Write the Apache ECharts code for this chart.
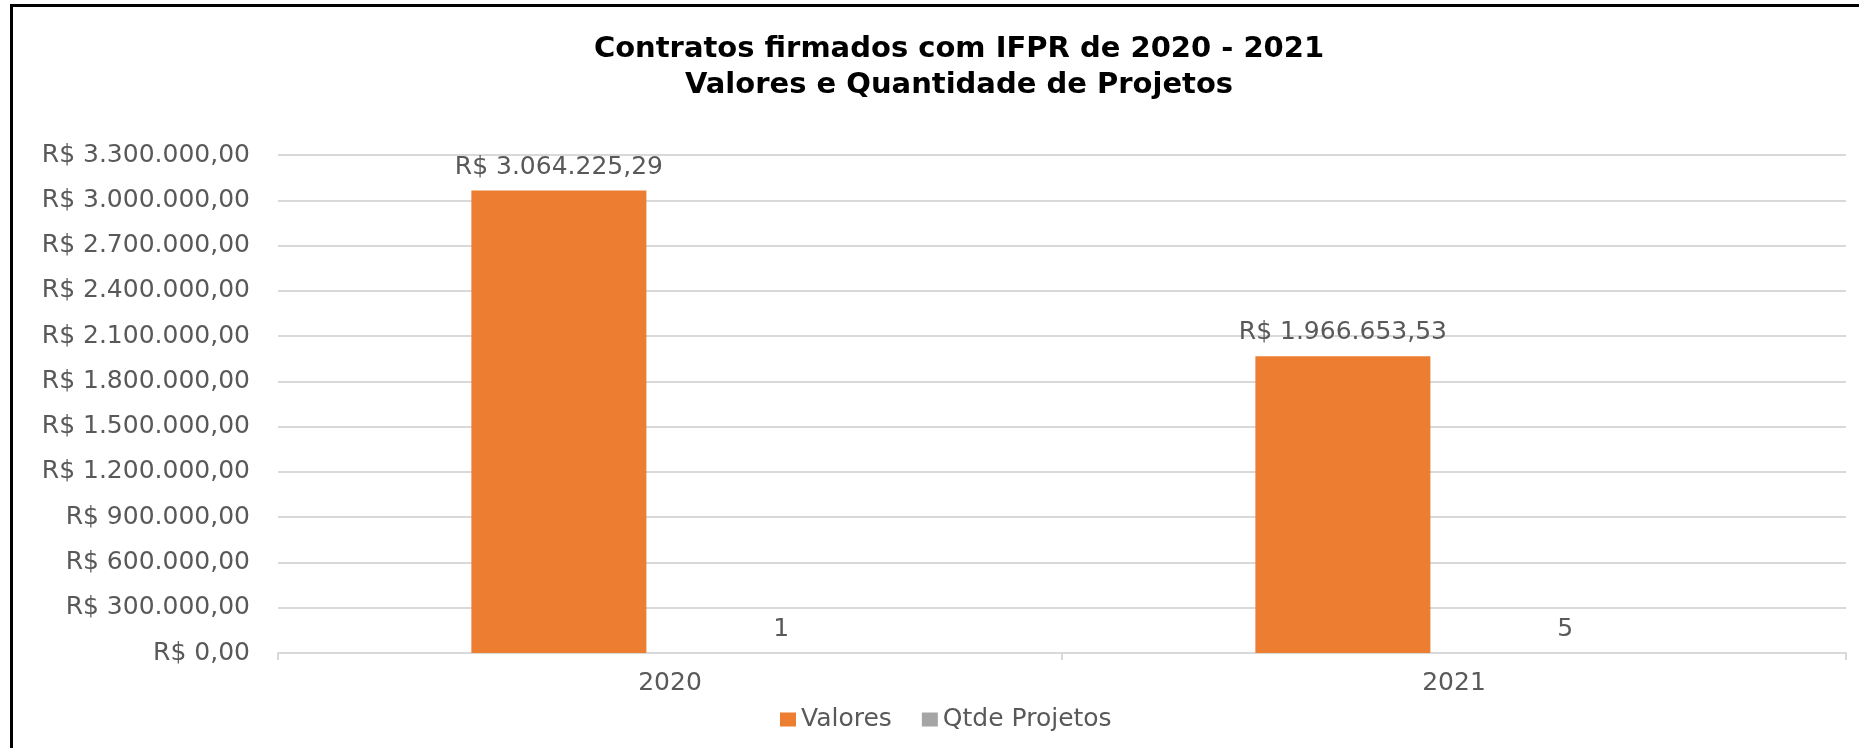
<!DOCTYPE html>
<html>
<head>
<meta charset="utf-8">
<title>Contratos firmados com IFPR</title>
<script src="https://cdn.jsdelivr.net/npm/echarts@6/dist/echarts.min.js"></script>
<style>
  html, body { margin: 0; padding: 0; background: #fff; }
  #chart { width: 1859px; height: 748px; }
</style>
</head>
<body>
<div id="chart"></div>
<script>
// dados
var anos = ["2020", "2021"];
var valores = [3064225.29, 1966653.53];
var qtdeProjetos = [1, 5];
var eixoMax = 3300000;
var eixoPasso = 300000;

// formata no padrão R$ 1.234.567,89
function reais(v) {
  var partes = Number(v).toFixed(2).split(".");
  var inteiro = partes[0].replace(/\B(?=(\d{3})+(?!\d))/g, ".");
  return "R$ " + inteiro + "," + partes[1];
}

var fonte = "DejaVu Sans";
var cinzaTexto = "#595959";

var myChart = echarts.init(document.getElementById("chart"));
myChart.setOption({
  animation: false,
  title: {
    text: "Contratos firmados com IFPR de 2020 - 2021\nValores e Quantidade de Projetos",
    left: 959,
    top: 31,
    padding: 0,
    textAlign: "center",
    textStyle: {
      fontFamily: fonte,
      fontWeight: "bold",
      fontSize: 29,
      lineHeight: 36,
      color: "#000",
    },
  },
  legend: {
    data: ["Valores", "Qtde Projetos"],
    left: 775,
    top: 702,
    itemWidth: 16,
    itemHeight: 14,
    itemGap: 30,
    icon: "rect",
    textStyle: {
      fontFamily: fonte,
      fontSize: 25,
      color: cinzaTexto,
    },
  },
  grid: {
    left: 278,
    right: 13,
    top: 155,
    bottom: 95,
  },
  xAxis: {
    type: "category",
    data: anos,
    axisLine: { lineStyle: { color: "#d9d9d9", width: 2 } },
    axisTick: { show: true, length: 7, lineStyle: { color: "#d9d9d9", width: 2 } },
    axisLabel: {
      margin: 18,
      fontFamily: fonte,
      fontSize: 25,
      color: cinzaTexto,
    },
  },
  yAxis: {
    type: "value",
    min: 0,
    max: eixoMax,
    interval: eixoPasso,
    axisLine: { show: false },
    axisTick: { show: false },
    splitLine: { lineStyle: { color: "#d9d9d9", width: 2 } },
    axisLabel: {
      margin: 28,
      fontFamily: fonte,
      fontSize: 25,
      color: cinzaTexto,
      formatter: reais,
    },
  },
  series: [
    {
      name: "Valores",
      type: "bar",
      data: valores,
      barWidth: 175,
      barGap: "27%",
      itemStyle: { color: "#ED7D31" },
      label: {
        show: true,
        position: "top",
        distance: 11,
        fontFamily: fonte,
        fontSize: 25,
        color: cinzaTexto,
        formatter: function (p) {
          return reais(p.value);
        },
      },
    },
    {
      name: "Qtde Projetos",
      type: "bar",
      data: qtdeProjetos,
      barWidth: 175,
      itemStyle: { color: "#A5A5A5" },
      label: {
        show: true,
        position: "top",
        distance: 11,
        fontFamily: fonte,
        fontSize: 25,
        color: cinzaTexto,
      },
    },
  ],
  // moldura preta (esquerda e topo)
  graphic: [
    {
      type: "rect",
      silent: true,
      shape: { x: 11.5, y: 5.5, width: 1900, height: 800 },
      style: { fill: "none", stroke: "#000", lineWidth: 3 },
    },
  ],
});
</script>
</body>
</html>
